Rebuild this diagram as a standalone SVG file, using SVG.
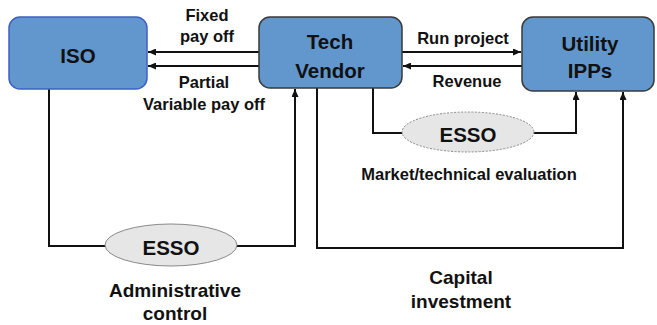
<svg xmlns="http://www.w3.org/2000/svg" width="657" height="325" viewBox="0 0 657 325">
  <defs>
    <marker id="arrow" markerUnits="userSpaceOnUse" markerWidth="8" markerHeight="7" refX="8" refY="3.5" orient="auto">
      <path d="M0,0 L8,3.5 L0,7 z" fill="#111"/>
    </marker>
    <style>
      .box { fill: #6197cd; stroke: #3a3a3a; stroke-width: 1.5; }
      .box.blue { stroke: #3f5fc8; }
      .oval { fill: #e6e6e6; stroke: #8a8a8a; stroke-width: 1; }
      .oval.dotted { stroke-dasharray: 2 1.5; }
      .wire { fill: none; stroke: #111; stroke-width: 2; }
      .arr { marker-end: url(#arrow); }
      text { font-family: "Liberation Sans", Arial, sans-serif; font-weight: bold; fill: #111; text-anchor: middle; }
      .big { font-size: 20.5px; }
      .lbl { font-size: 16.5px; }
      .cap { font-size: 19px; }
    </style>
  </defs>
  <rect width="657" height="325" fill="#ffffff"/>

  <!-- connectors -->
  <g id="connectors">
    <path class="wire arr" d="M259,52 L148,52"/>
    <path class="wire arr" d="M259,66 L148,66"/>
    <path class="wire arr" d="M402,52 L521,52"/>
    <path class="wire arr" d="M522,66 L403,66"/>
    <path class="wire arr" d="M49,89 V246 H295 V89"/>
    <path class="wire arr" d="M373,88 V133 H576 V92"/>
    <path class="wire arr" d="M317,88 V248 H623 V92"/>
  </g>

  <!-- nodes -->
  <g id="iso">
    <rect class="box blue" x="9" y="17" width="138" height="72" rx="11"/>
    <text class="big" x="78" y="63">ISO</text>
  </g>
  <g id="tech-vendor">
    <rect class="box" x="259" y="17" width="143" height="71" rx="11"/>
    <text class="big" x="330" y="49">Tech</text>
    <text class="big" x="330" y="78">Vendor</text>
  </g>
  <g id="utility-ipps">
    <rect class="box" x="522" y="17" width="132" height="74" rx="11"/>
    <text class="big" x="590" y="51">Utility</text>
    <text class="big" x="590" y="78">IPPs</text>
  </g>
  <g id="esso-admin">
    <ellipse class="oval" cx="171" cy="245" rx="66" ry="21"/>
    <text class="big" x="171" y="255">ESSO</text>
  </g>
  <g id="esso-market">
    <ellipse class="oval dotted" cx="468" cy="132" rx="66" ry="20"/>
    <text class="big" x="468" y="142">ESSO</text>
  </g>

  <!-- connector labels -->
  <g id="labels">
    <text class="lbl" x="207" y="21">Fixed</text>
    <text class="lbl" x="207" y="42">pay off</text>
    <text class="lbl" x="204" y="88">Partial</text>
    <text class="lbl" x="204" y="110">Variable pay off</text>
    <text class="lbl" x="463" y="44">Run project</text>
    <text class="lbl" x="467" y="87">Revenue</text>
    <text class="lbl" x="469" y="180">Market/technical evaluation</text>
    <text class="cap" x="175" y="297">Administrative</text>
    <text class="cap" x="175" y="320">control</text>
    <text class="cap" x="461" y="284">Capital</text>
    <text class="cap" x="461" y="308">investment</text>
  </g>
</svg>
